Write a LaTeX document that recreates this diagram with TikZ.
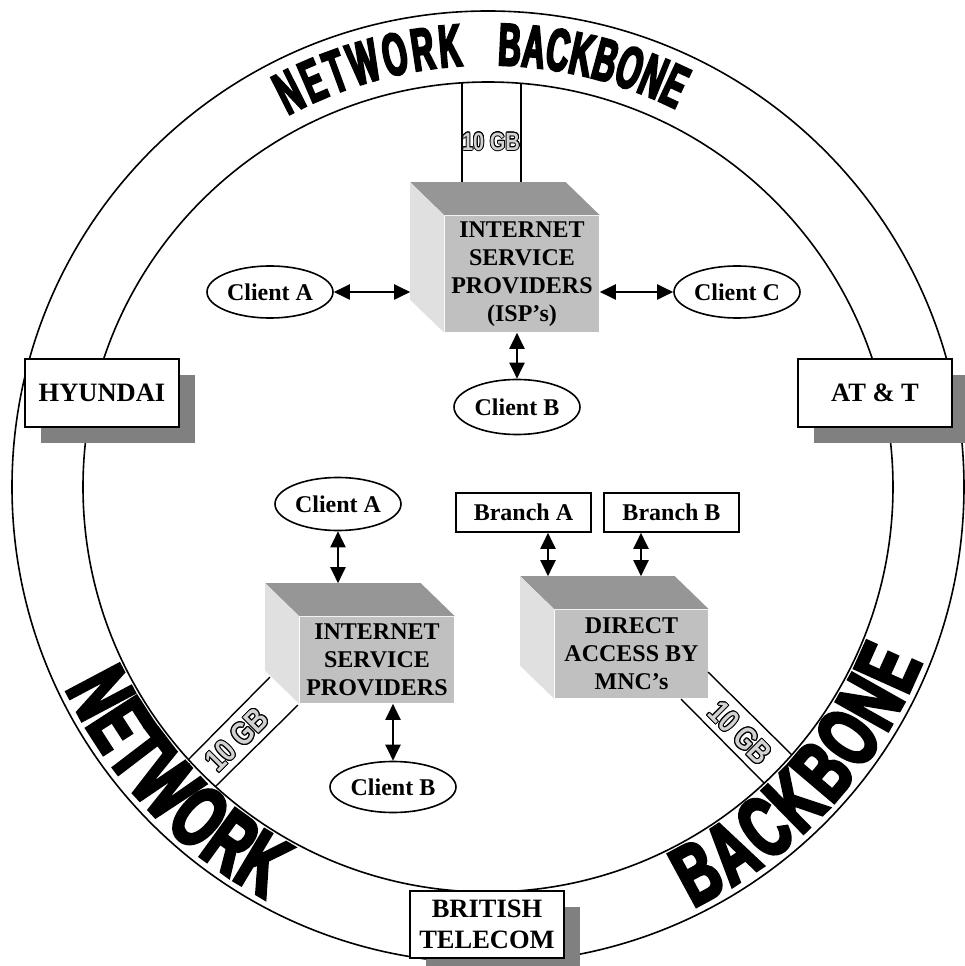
\documentclass[tikz,border=0pt]{standalone}
\usepackage{fontspec}
\setmainfont{Liberation Serif}
\newfontfamily\topfont{Liberation Sans}[FakeStretch=0.52,FakeBold=3.5]
\newfontfamily\ringfont{Liberation Sans}[FakeStretch=0.64,FakeBold=4]
\newfontfamily\gbfont{Liberation Sans}[FakeStretch=0.8]
\usepackage[copies]{contour}
\usetikzlibrary{arrows.meta,positioning,calc,shapes.geometric,shadows,decorations.text}
\definecolor{facefront}{RGB}{192,192,192}
\definecolor{facetop}{RGB}{150,150,150}
\definecolor{faceside}{RGB}{224,224,224}
\definecolor{shade}{RGB}{128,128,128}
\definecolor{pipefill}{RGB}{210,210,210}
\contourlength{0.8pt}
\contournumber{16}
\newcommand{\topfmt}{\topfont\bfseries\fontsize{60}{60}\selectfont}
\newcommand{\ringfmt}{\ringfont\bfseries\fontsize{86}{86}\selectfont}
\newcommand{\gblabel}[1]{{\color{pipefill}\contour{black}{#1}}}
% top and side faces of a box drawn behind a front node
\newcommand{\cubefaces}[1]{%
  \coordinate (#1-back) at ($(#1.north west)+(-34,33)$);
  \fill[facetop] (#1.north west) -- (#1-back) -- ($(#1.north east)+(-34,33)$) -- (#1.north east) -- cycle;
  \fill[faceside] (#1.north west) -- (#1-back) -- ($(#1.south west)+(-34,33)$) -- (#1.south west) -- cycle;}

\begin{document}
\begin{tikzpicture}[x=1pt, y=1pt, line width=1.6pt,
  front/.style={fill=facefront, minimum width=154pt, inner sep=0pt, align=center,
    font=\bfseries\fontsize{24}{28}\selectfont},
  client/.style={draw, ellipse, minimum width=126pt, minimum height=52pt, inner sep=0pt,
    font=\bfseries\fontsize{24}{28}\selectfont},
  branch/.style={draw, minimum width=135pt, minimum height=39pt, inner sep=0pt,
    font=\bfseries\fontsize{24}{28}\selectfont},
  carrier/.style={draw, line width=2.4pt, fill=white, minimum width=154pt, minimum height=68pt,
    inner sep=0pt, align=center, font=\bfseries\fontsize{26.5}{31}\selectfont,
    drop shadow={shadow xshift=16pt, shadow yshift=-16pt, fill=shade, opacity=1}},
  biarrow/.style={{Triangle[length=16pt,width=15pt]}-{Triangle[length=16pt,width=15pt]}, line width=2pt},
  pipe/.style={line width=1.4pt},
  gb/.style={inner sep=0pt}]
\useasboundingbox (-488,-479) rectangle (476,487);
% backbone ring
\draw (0,0) circle (476pt);
\draw (0,0) circle (405pt);
% ring lettering
\path[decorate, decoration={text along path, text align=fit to path, text={|\topfmt|NETWORK}}]
  (118.3:422pt) arc[start angle=118.3, end angle=93.4, radius=422pt];
\path[decorate, decoration={text along path, text align=fit to path, text={|\topfmt|BACKBONE}}]
  (88.7:422pt) arc[start angle=88.7, end angle=63.6, radius=422pt];
\path[decorate, decoration={text along path, text align=fit to path, text={|\ringfmt|NETWORK}}]
  (205.5:468pt) arc[start angle=205.5, end angle=241.6, radius=468pt];
\path[decorate, decoration={text along path, text align=fit to path, text={|\ringfmt|BACKBONE}}]
  (296:468pt) arc[start angle=296, end angle=338, radius=468pt];
% carriers
\node[carrier] (hyundai) at (-386,94) {HYUNDAI};
\node[carrier] (att) at (387,94) {AT \& T};
\node[carrier, minimum height=67pt] (bt) at (-1,-437.5) {BRITISH\\TELECOM};
% ISP at the top
\node[front, minimum height=116pt] (isp1) at (34,213) {INTERNET\\SERVICE\\PROVIDERS\\(ISP’s)};
\cubefaces{isp1}
\node[client] (ca1) at (-218,195) {Client A};
\node[client] (cc1) at (249,195) {Client C};
\node[client, minimum height=55pt] (cb1) at (29,80) {Client B};
\draw[biarrow] (ca1.east) -- ($(ca1.east -| isp1.west)+(-34,0)$);
\draw[biarrow] (isp1.east |- cc1.west) -- (cc1.west);
\draw[biarrow] (cb1.north |- isp1.south) -- (cb1.north);
\coordinate (t1) at (93.7:405pt);
\coordinate (t2) at (85.3:405pt);
\draw[pipe] (t1) -- (t1 |- isp1-back);
\draw[pipe] (t2) -- (t2 |- isp1-back);
\node[gb, font=\gbfont\bfseries\fontsize{25}{25}\selectfont] (gb1) at (3,345) {\gblabel{10 GB}};
% ISP at the lower left
\node[front, minimum height=86pt] (isp2) at (-111,-173) {INTERNET\\SERVICE\\PROVIDERS};
\cubefaces{isp2}
\node[client, minimum height=53pt] (ca2) at (-150,-17) {Client A};
\node[client, minimum height=51pt] (cb2) at (-95,-300) {Client B};
\draw[biarrow] (ca2.south) -- (ca2.south |- isp2-back);
\draw[biarrow] (cb2.north |- isp2.south) -- (cb2.north);
\coordinate (l1) at (222.3:405pt);
\coordinate (l2) at (227.7:405pt);
\coordinate (l1b) at (-218,-190);
\coordinate (l2b) at (-190,-218);
\draw[pipe] (l1) -- (l1b);
\draw[pipe] (l2) -- (l2b);
\node[gb, rotate=45, font=\gbfont\bfseries\fontsize{32}{32}\selectfont] (gb2) at (-251,-253) {\gblabel{10 GB}};
% direct access
\node[front, minimum width=153pt, minimum height=88pt] (dir) at (143.5,-167) {DIRECT\\ACCESS BY\\MNC’s};
\cubefaces{dir}
\node[branch] (bra) at (35.5,-25.5) {Branch A};
\node[branch] (brb) at (183.5,-25.5) {Branch B};
\coordinate (bra-s) at ([xshift=24.5pt]bra.south);
\coordinate (brb-s) at ([xshift=-30.5pt]brb.south);
\draw[biarrow] (bra-s) -- (bra-s |- dir-back);
\draw[biarrow] (brb-s) -- (brb-s |- dir-back);
\coordinate (r1) at (318.6:405pt);
\coordinate (r2) at (313:405pt);
\coordinate (r1b) at (220,-185);
\coordinate (r2b) at (193,-212);
\draw[pipe] (r1) -- (r1b);
\draw[pipe] (r2) -- (r2b);
\node[gb, rotate=-45, font=\gbfont\bfseries\fontsize{32}{32}\selectfont] (gb3) at (252,-246) {\gblabel{10 GB}};
\end{tikzpicture}
\end{document}
